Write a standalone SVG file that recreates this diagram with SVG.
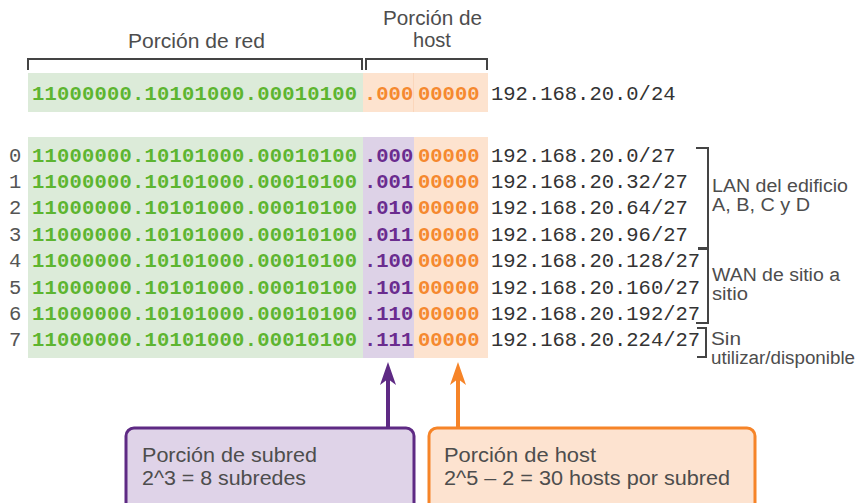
<svg xmlns="http://www.w3.org/2000/svg" width="859" height="503" viewBox="0 0 859 503">
<style>
.lbl{font-family:"Liberation Sans",Arial,sans-serif;fill:#4d4d4d}
.mono{font-family:"Liberation Mono","Courier New",monospace;font-size:20.5px}
.bin{fill:#5db530;font-weight:bold}
.sub{fill:#6a2c8f;font-weight:bold}
.hst{fill:#f5892f;font-weight:bold}
.ip{fill:#333}
.idx{fill:#555}
.brk{fill:none;stroke:#444;stroke-width:2}
</style>
<rect width="859" height="503" fill="#fff"/>

<g id="header">
  <text class="lbl" x="128" y="48" font-size="20" textLength="137" lengthAdjust="spacingAndGlyphs">Porción de red</text>
  <text class="lbl" x="383" y="25" font-size="20" textLength="99" lengthAdjust="spacingAndGlyphs">Porción de</text>
  <text class="lbl" x="432" y="47" font-size="20" text-anchor="middle">host</text>
  <path class="brk" d="M28,70 V59 H362 V70"/>
  <path class="brk" d="M366,70 V59 H487 V70"/>
</g>

<g id="row-network">
  <rect x="28" y="73" width="335" height="39" fill="#dcebd9"/>
  <rect x="363" y="73" width="125" height="39" fill="#fde3cf"/>
  <line x1="413.5" y1="73" x2="413.5" y2="112" stroke="#fbd6bb" stroke-width="1"/>
  <text class="mono bin" x="32" y="100" textLength="325">11000000.10101000.00010100</text>
  <text class="mono hst" x="364" y="100">.000</text>
  <text class="mono hst" x="418" y="100">00000</text>
  <text class="mono ip" x="491" y="100">192.168.20.0/24</text>
</g>

<g id="subnet-table">
  <rect x="28" y="137" width="335" height="221" fill="#dcebd9"/>
  <rect x="363" y="137" width="51" height="221" fill="#ddd2e7"/>
  <rect x="414" y="137" width="74" height="221" fill="#fde3cf"/>
  <g class="mono idx">
    <text x="9" y="162">0</text><text x="9" y="188">1</text><text x="9" y="214">2</text><text x="9" y="241">3</text>
    <text x="9" y="267">4</text><text x="9" y="294">5</text><text x="9" y="320">6</text><text x="9" y="346">7</text>
  </g>
  <g class="mono bin">
    <text x="32" y="162" textLength="325">11000000.10101000.00010100</text>
    <text x="32" y="188" textLength="325">11000000.10101000.00010100</text>
    <text x="32" y="214" textLength="325">11000000.10101000.00010100</text>
    <text x="32" y="241" textLength="325">11000000.10101000.00010100</text>
    <text x="32" y="267" textLength="325">11000000.10101000.00010100</text>
    <text x="32" y="294" textLength="325">11000000.10101000.00010100</text>
    <text x="32" y="320" textLength="325">11000000.10101000.00010100</text>
    <text x="32" y="346" textLength="325">11000000.10101000.00010100</text>
  </g>
  <g class="mono sub">
    <text x="364" y="162">.000</text><text x="364" y="188">.001</text><text x="364" y="214">.010</text><text x="364" y="241">.011</text>
    <text x="364" y="267">.100</text><text x="364" y="294">.101</text><text x="364" y="320">.110</text><text x="364" y="346">.111</text>
  </g>
  <g class="mono hst">
    <text x="418" y="162">00000</text><text x="418" y="188">00000</text><text x="418" y="214">00000</text><text x="418" y="241">00000</text>
    <text x="418" y="267">00000</text><text x="418" y="294">00000</text><text x="418" y="320">00000</text><text x="418" y="346">00000</text>
  </g>
  <g class="mono ip">
    <text x="491" y="162">192.168.20.0/27</text>
    <text x="491" y="188">192.168.20.32/27</text>
    <text x="491" y="214">192.168.20.64/27</text>
    <text x="491" y="241">192.168.20.96/27</text>
    <text x="491" y="267">192.168.20.128/27</text>
    <text x="491" y="294">192.168.20.160/27</text>
    <text x="491" y="320">192.168.20.192/27</text>
    <text x="491" y="346">192.168.20.224/27</text>
  </g>
</g>

<g id="group-lan">
  <path class="brk" d="M696,148 H708 V248 H698"/>
  <text class="lbl" x="712" y="192" font-size="18" textLength="136" lengthAdjust="spacingAndGlyphs">LAN del edificio</text>
  <text class="lbl" x="712" y="211" font-size="18" textLength="98" lengthAdjust="spacingAndGlyphs">A, B, C y D</text>
</g>
<g id="group-wan">
  <path class="brk" d="M698,249 H708 V323 H696"/>
  <text class="lbl" x="712" y="281" font-size="18" textLength="128" lengthAdjust="spacingAndGlyphs">WAN de sitio a</text>
  <text class="lbl" x="712" y="300" font-size="18" textLength="36" lengthAdjust="spacingAndGlyphs">sitio</text>
</g>
<g id="group-unused">
  <path class="brk" d="M697,328 H706 V357 H697"/>
  <text class="lbl" x="711" y="345" font-size="18" textLength="30" lengthAdjust="spacingAndGlyphs">Sin</text>
  <text class="lbl" x="711" y="364" font-size="18" textLength="144" lengthAdjust="spacingAndGlyphs">utilizar/disponible</text>
</g>

<g id="connectors">
  <line x1="388" y1="376" x2="388" y2="429" stroke="#5e2a84" stroke-width="4"/>
  <path d="M388,362 L380,385 L388,379 L396,385 Z" fill="#5e2a84"/>
  <line x1="458" y1="376" x2="458" y2="429" stroke="#f68428" stroke-width="4"/>
  <path d="M458,362 L450,385 L458,379 L466,385 Z" fill="#f68428"/>
</g>

<g id="box-subnet">
  <rect x="126" y="428" width="288" height="90" rx="8" fill="#dfd3e8" stroke="#5e2a84" stroke-width="3"/>
  <text class="lbl" x="142" y="462" font-size="19.5" textLength="175" lengthAdjust="spacingAndGlyphs">Porción de subred</text>
  <text class="lbl" x="142" y="485" font-size="19.5" textLength="164" lengthAdjust="spacingAndGlyphs">2^3 = 8 subredes</text>
</g>
<g id="box-host">
  <rect x="429" y="428" width="326" height="90" rx="8" fill="#fde3d0" stroke="#f68428" stroke-width="3"/>
  <text class="lbl" x="444" y="462" font-size="19.5" textLength="152" lengthAdjust="spacingAndGlyphs">Porción de host</text>
  <text class="lbl" x="444" y="485" font-size="19.5" textLength="286" lengthAdjust="spacingAndGlyphs">2^5 – 2 = 30 hosts por subred</text>
</g>
</svg>
